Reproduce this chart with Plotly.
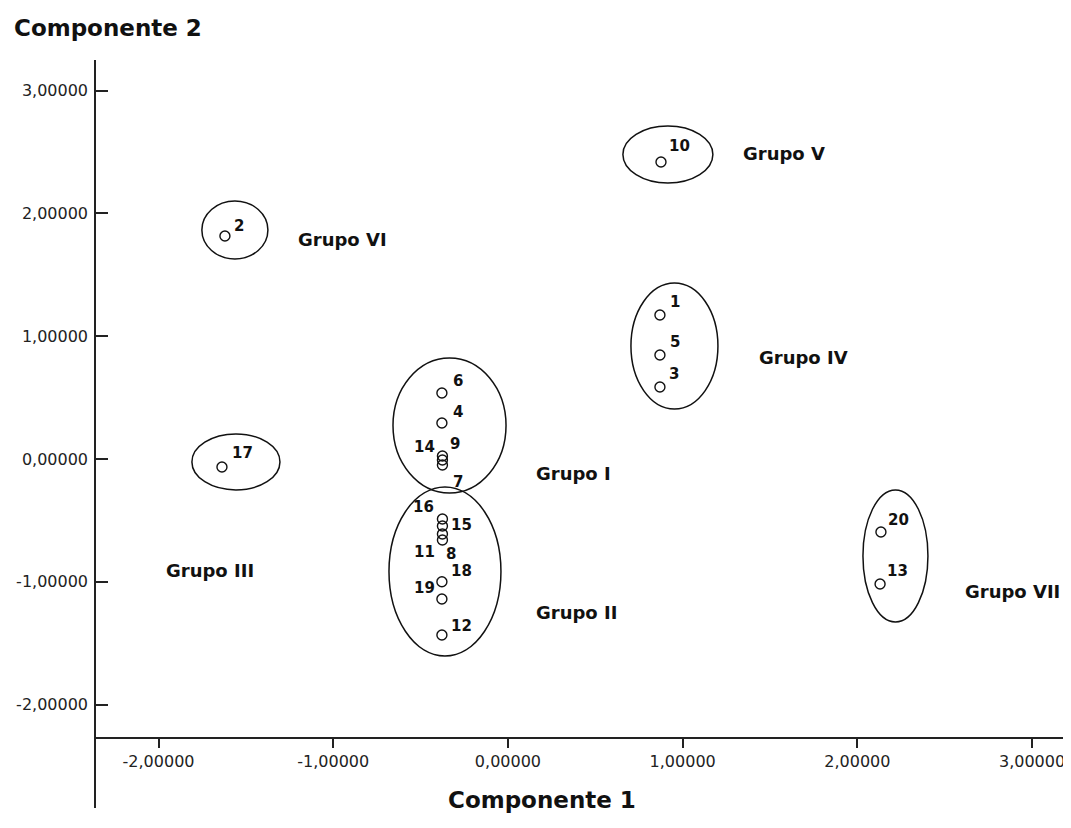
import plotly.graph_objects as go

# ---- data ----
case_ids = ["1", "2", "3", "4", "5", "6", "7", "8", "9", "10",
            "11", "12", "13", "14", "15", "16", "17", "18", "19", "20"]
comp1 = [0.870, -1.620, 0.870, -0.378, 0.870, -0.378, -0.375, -0.375, -0.375, 0.876,
         -0.375, -0.378, 2.130, -0.375, -0.375, -0.375, -1.637, -0.378, -0.378, 2.135]
comp2 = [1.173, 1.816, 0.586, 0.293, 0.847, 0.537, -0.049, -0.611, -0.008, 2.419,
         -0.660, -1.433, -1.018, 0.024, -0.546, -0.489, -0.065, -1.000, -1.140, -0.594]

group_names = ["Grupo I", "Grupo II", "Grupo III", "Grupo IV", "Grupo V", "Grupo VI", "Grupo VII"]
group_label_x = [0.378, 0.395, -1.706, 1.694, 1.580, -0.945, 2.890]
group_label_y = [-0.122, -1.246, -0.904, 0.830, 2.484, 1.791, -1.083]
# ellipse bounds per group: x0, x1, y0, y1
group_x0 = [-0.658, -0.681, -1.809, 0.704, 0.658, -1.752, 2.032]
group_x1 = [-0.011, -0.040, -1.305, 1.202, 1.173, -1.374, 2.404]
group_y0 = [-0.277, -1.604, -0.252, 0.407, 2.248, 1.629, -1.327]
group_y1 = [0.822, -0.228, 0.204, 1.433, 2.712, 2.101, -0.252]

x_ticks = [-2, -1, 0, 1, 2, 3]
x_tick_labels = ["-2,00000", "-1,00000", "0,00000", "1,00000", "2,00000", "3,00000"]
y_ticks = [-2, -1, 0, 1, 2, 3]
y_tick_labels = ["-2,00000", "-1,00000", "0,00000", "1,00000", "2,00000", "3,00000"]

# label offsets (pixels) for the case numbers
label_dx = [15, 14, 14, 16, 15, 16, 16, 9, 13, 19, -18, 20, 17, -18, 19, -19, 21, 20, -17, 18]
label_dy = [-13, -10, -13, -11, -13, -12, 17, 20, -16, -16, 12, -9, -13, -9, -1, -12, -14, -11, -11, -12]

# ---- figure ----
fig = go.Figure()

for i in range(len(group_names)):
    fig.add_shape(type="circle", xref="x", yref="y",
                  x0=group_x0[i], x1=group_x1[i], y0=group_y0[i], y1=group_y1[i],
                  line=dict(color="#111111", width=1.5))

fig.add_trace(go.Scatter(
    x=comp1, y=comp2, mode="markers",
    marker=dict(symbol="circle-open", size=10, color="#111111", line=dict(width=1.4)),
    showlegend=False, hoverinfo="skip"))

annotations = []
for i, cid in enumerate(case_ids):
    annotations.append(dict(x=comp1[i], y=comp2[i], xref="x", yref="y", text="<b>%s</b>" % cid,
                            showarrow=False, xshift=label_dx[i], yshift=-label_dy[i],
                            font=dict(family="DejaVu Sans", size=15, color="#111111"),
                            xanchor="center", yanchor="middle"))
for i, g in enumerate(group_names):
    annotations.append(dict(x=group_label_x[i], y=group_label_y[i], xref="x", yref="y",
                            text="<b>%s</b>" % g, showarrow=False,
                            font=dict(family="DejaVu Sans", size=18, color="#111111"),
                            xanchor="center", yanchor="middle"))
# axis titles
annotations.append(dict(x=-0.0865, y=1.0428, xref="paper", yref="paper",
                        text="<b>Componente 2</b>", showarrow=False,
                        font=dict(family="DejaVu Sans", size=23, color="#111111"),
                        xanchor="left", yanchor="middle"))
annotations.append(dict(x=0.459, y=0.0107, xref="paper", yref="paper",
                        text="<b>Componente 1</b>", showarrow=False,
                        font=dict(family="DejaVu Sans", size=23, color="#111111"),
                        xanchor="center", yanchor="middle"))

fig.update_layout(
    width=1063, height=820,
    margin=dict(l=88, r=4, t=52, b=20),
    paper_bgcolor="white", plot_bgcolor="white",
    annotations=annotations,
    xaxis=dict(range=[-2.358, 3.200], tickvals=x_ticks, ticktext=x_tick_labels,
               showgrid=False, zeroline=False, showline=True, linecolor="#222222", linewidth=1.5,
               ticks="outside", ticklen=9, tickwidth=1.5, tickcolor="#222222",
               anchor="free", position=0.0936,
               tickfont=dict(family="DejaVu Sans", size=16, color="#222222")),
    yaxis=dict(range=[-2.842, 3.249], tickvals=y_ticks, ticktext=y_tick_labels,
               showgrid=False, zeroline=False, showline=True, linecolor="#222222", linewidth=1.5,
               ticks="inside", ticklen=12, tickwidth=1.5, tickcolor="#222222",
               ticklabelstandoff=3,
               tickfont=dict(family="DejaVu Sans", size=16, color="#222222")),
)

fig.write_html("out.html")
